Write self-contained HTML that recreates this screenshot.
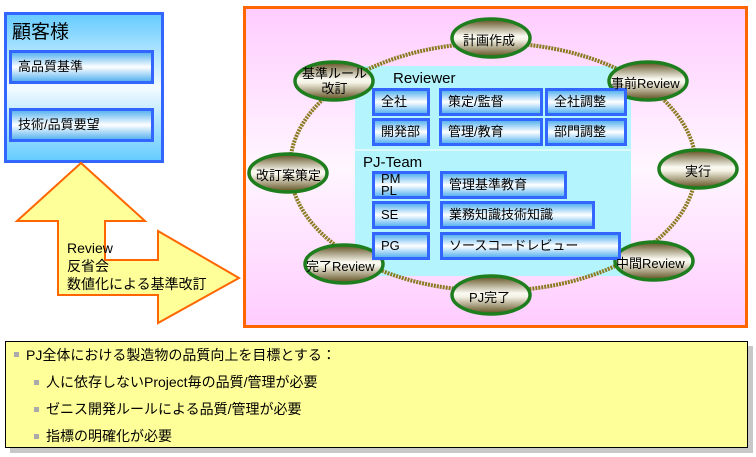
<!DOCTYPE html><html><head><meta charset="utf-8"><style>
body{margin:0;width:756px;height:457px;background:#fff;position:relative;overflow:hidden;font-family:"Liberation Sans","Noto Sans CJK JP",sans-serif;color:#000}
.a{position:absolute;box-sizing:border-box}
.bx{position:absolute;box-sizing:border-box;border:3px solid #3366ff;background:linear-gradient(#5ab4f0,#fff 50%,#5ab4f0);font-size:13px;padding-left:6px;display:flex;align-items:center;line-height:12px}
.t{position:absolute;white-space:nowrap}
.sq{position:absolute;width:5px;height:5px;background:#aaa}
</style></head><body>
<div class="a" style="left:4px;top:12px;width:160px;height:151px;border:3px solid #3366ff;background:linear-gradient(#66ccff,#f4fbff 50%,#66ccff)"></div>
<div class="t" style="left:12px;top:17px;font-size:19px">顧客様</div>
<div class="bx" style="left:9px;top:50px;width:145px;height:34px">高品質基準</div>
<div class="bx" style="left:9px;top:108px;width:145px;height:34px">技術/品質要望</div>
<svg class="a" style="left:0;top:0" width="756" height="457">
<defs>
<linearGradient id="pk" x1="0" y1="0" x2="0" y2="1"><stop offset="0" stop-color="#ffccff"/><stop offset=".5" stop-color="#fff6ff"/><stop offset="1" stop-color="#ffccff"/></linearGradient>
<linearGradient id="ol" x1="0" y1="0" x2="0" y2="1"><stop offset="0" stop-color="#5e4e1e"/><stop offset=".45" stop-color="#fbfaf2"/><stop offset=".55" stop-color="#f4f2e4"/><stop offset="1" stop-color="#5e4e1e"/></linearGradient>
</defs>
<polygon points="81,163 145,221 105,221 105,260 158,260 158,231 239,278 158,323 158,295 58,295 58,221 17,221" fill="#ffff99" stroke="#ff6600" stroke-width="2"/>
<rect x="244.5" y="7.5" width="502" height="319" fill="url(#pk)" stroke="#ff6600" stroke-width="3"/>
<rect x="355" y="66" width="276" height="210" fill="#b4f4fc"/>
<line x1="355" y1="150" x2="631" y2="150" stroke="#fff" stroke-width="1"/>
<ellipse cx="493" cy="167" rx="203" ry="124" fill="none" stroke="#8a7a20" stroke-width="4" stroke-dasharray="2 1"/>
<g fill="url(#ol)" stroke="#1e7e1e" stroke-width="3.5">
<ellipse cx="491" cy="38" rx="39" ry="19"/>
<ellipse cx="648" cy="81" rx="39" ry="19"/>
<ellipse cx="698" cy="169" rx="39" ry="19"/>
<ellipse cx="654" cy="261" rx="39" ry="19"/>
<ellipse cx="491" cy="295" rx="39" ry="19"/>
<ellipse cx="344" cy="264" rx="39" ry="19"/>
<ellipse cx="288" cy="173" rx="39" ry="19"/>
<ellipse cx="334" cy="81" rx="39" ry="19"/>
</g>
</svg>
<div class="t" style="left:393px;top:70px;font-size:15px">Reviewer</div>
<div class="bx" style="left:372px;top:88px;width:58px;height:28px">全社</div>
<div class="bx" style="left:439px;top:88px;width:104px;height:28px">策定/監督</div>
<div class="bx" style="left:545px;top:88px;width:82px;height:28px">全社調整</div>
<div class="bx" style="left:372px;top:118px;width:58px;height:28px">開発部</div>
<div class="bx" style="left:439px;top:118px;width:104px;height:28px">管理/教育</div>
<div class="bx" style="left:545px;top:118px;width:82px;height:28px">部門調整</div>
<div class="t" style="left:363px;top:154px;font-size:15px">PJ-Team</div>
<div class="bx" style="left:372px;top:171px;width:58px;height:28px">PM<br>PL</div>
<div class="bx" style="left:440px;top:171px;width:127px;height:28px">管理基準教育</div>
<div class="bx" style="left:372px;top:201px;width:58px;height:28px">SE</div>
<div class="bx" style="left:440px;top:201px;width:155px;height:28px">業務知識技術知識</div>
<div class="bx" style="left:372px;top:232px;width:58px;height:28px">PG</div>
<div class="bx" style="left:440px;top:232px;width:181px;height:28px">ソースコードレビュー</div>
<div class="t" style="left:463px;top:30px;font-size:13px">計画作成</div>
<div class="t" style="left:611px;top:73px;font-size:13px">事前Review</div>
<div class="t" style="left:685px;top:161px;font-size:13px">実行</div>
<div class="t" style="left:616px;top:253px;font-size:13px">中間Review</div>
<div class="t" style="left:469px;top:287px;font-size:13px">PJ完了</div>
<div class="t" style="left:306px;top:256px;font-size:13px">完了Review</div>
<div class="t" style="left:256px;top:165px;font-size:13px">改訂案策定</div>
<div class="t" style="left:302px;top:66px;font-size:13px;text-align:center;line-height:15px">基準ルール<br>改訂</div>
<div class="t" style="left:67px;top:239px;font-size:14px;line-height:18px">Review<br>反省会<br>数値化による基準改訂</div>
<div class="a" style="left:10px;top:346px;width:743px;height:107px;background:#c8c8c8"></div>
<div class="a" style="left:5px;top:341px;width:743px;height:107px;background:#ffff99;border:1px solid #000"></div>
<div class="sq" style="left:14px;top:352px"></div>
<div class="t" style="left:26px;top:345px;font-size:14px">PJ全体における製造物の品質向上を目標とする：</div>
<div class="sq" style="left:34px;top:380px"></div>
<div class="t" style="left:46px;top:372px;font-size:14px">人に依存しないProject毎の品質/管理が必要</div>
<div class="sq" style="left:34px;top:407px"></div>
<div class="t" style="left:46px;top:399px;font-size:14px">ゼニス開発ルールによる品質/管理が必要</div>
<div class="sq" style="left:34px;top:434px"></div>
<div class="t" style="left:46px;top:426px;font-size:14px">指標の明確化が必要</div>
</body></html>
